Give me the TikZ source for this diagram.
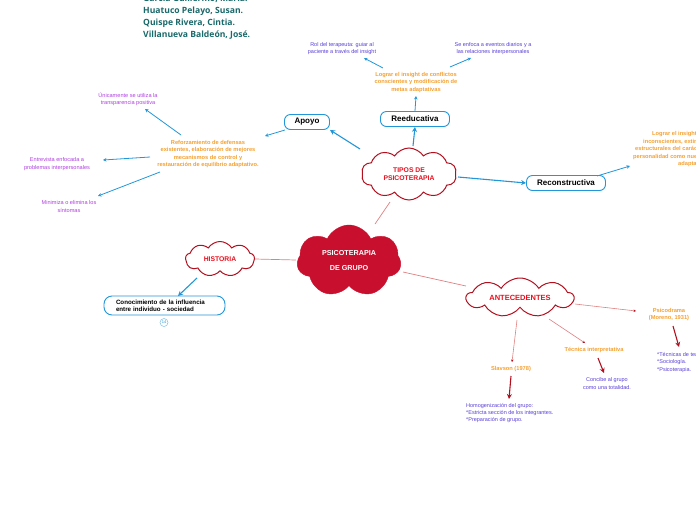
\documentclass[tikz,border=0pt]{standalone}
\usepackage{fontspec}
\setmainfont{Liberation Sans}
\newfontfamily\authfont{Open Sans}
\usetikzlibrary{shapes.symbols,arrows.meta}
\definecolor{blueline}{HTML}{2196D9}
\definecolor{cloudred}{HTML}{B3101F}
\definecolor{redtxt}{HTML}{E8101E}
\definecolor{mainred}{HTML}{C8102E}
\definecolor{orangetxt}{HTML}{F5A030}
\definecolor{purpletxt}{HTML}{B040E0}
\definecolor{violettxt}{HTML}{5A3FD6}
\definecolor{teal}{HTML}{19696B}
\definecolor{thinred}{HTML}{E08080}
\tikzset{
  cloudnode/.style={cloud, cloud ignores aspect, cloud puffs=10, cloud puff arc=115, draw=cloudred, line width=1pt, fill=white, text=redtxt, font=\bfseries\fontsize{6.8}{8.5}\selectfont, align=center, inner sep=0pt},
  boxnode/.style={draw=blueline, line width=0.9pt, rounded corners=6pt, fill=white, font=\bfseries\fontsize{8}{9}\selectfont, minimum height=15pt, inner sep=2pt},
  orange/.style={text=orangetxt, font=\bfseries\fontsize{5.7}{7.5}\selectfont, align=center, inner sep=0pt},
  purple/.style={text=purpletxt, font=\fontsize{5.6}{7.5}\selectfont, align=center, inner sep=0pt},
  violet/.style={text=violettxt, font=\fontsize{5.5}{7.2}\selectfont, align=center, inner sep=0pt},
  barrow/.style={draw=blueline, line width=1.1pt, -{Stealth[length=5pt,width=5pt]}},
  sarrow/.style={draw=blueline, line width=0.8pt, -{Stealth[length=3.5pt,width=3.5pt]}},
  rline/.style={draw=thinred, line width=0.7pt},
  rarrow/.style={draw=thinred, line width=0.6pt, -{Stealth[length=2.5pt,width=2.5pt,color=cloudred]}},
  darrow/.style={draw=cloudred, line width=1.1pt, -{Stealth[length=5pt,width=5pt]}},
}
\begin{document}
\begin{tikzpicture}[x=1pt,y=-1pt]
\useasboundingbox (0,0) rectangle (696,520);
\clip (0,0) rectangle (696,520);
% authors
\node[anchor=north west, text=teal, font=\authfont\bfseries\fontsize{8.6}{12}\selectfont, align=left, inner sep=0pt] (auth) at (143,-5)
 {García Guillermo, María.\\Huatuco Pelayo, Susan.\\Quispe Rivera, Cintia.\\Villanueva Baldeón, José.};

% main cloud
\node[cloud, cloud ignores aspect, cloud puffs=7, cloud puff arc=130, draw=mainred, fill=mainred, minimum width=104pt, minimum height=72pt, text=white, font=\bfseries\fontsize{7.2}{15}\selectfont, align=center, inner sep=0pt] (main) at (349,261) {PSICOTERAPIA\\DE GRUPO};

\node[cloudnode, minimum width=95pt, minimum height=52pt] (tipos) at (409,174) {TIPOS DE\\PSICOTERAPIA};
\node[cloudnode, cloud puffs=9, minimum width=69pt, minimum height=35pt] (hist) at (220,259) {HISTORIA};
\node[cloudnode, cloud puffs=9, minimum width=107pt, minimum height=39pt, font=\bfseries\fontsize{7.5}{9}\selectfont] (ante) at (520,297.5) {ANTECEDENTES};

\coordinate (m1) at (375,224); \coordinate (t1) at (390,202);
\draw[rline] (m1) -- (t1);
\coordinate (m2) at (296,260); \coordinate (h1) at (255,259);
\draw[rline] (m2) -- (h1);
\coordinate (m3) at (403,272); \coordinate (a1) at (466,286);
\draw[rline] (m3) -- (a1);

% boxes
\node[boxnode, minimum width=45pt] (apoyo) at (307,122) {Apoyo};
\node[boxnode, minimum width=69pt] (reedu) at (415,119) {Reeducativa};
\node[boxnode, minimum width=79pt] (recon) at (566,183) {Reconstructiva};

\coordinate (t2) at (360,149);
\draw[barrow] (t2) -- (apoyo.south east);
\coordinate (t3) at (413,146);
\draw[barrow] (t3) -- (reedu.south);
\coordinate (t4) at (458,177);
\draw[barrow] (t4) -- (recon.west);

% Apoyo branch
\node[orange] (refo) at (208,154) {Reforzamiento de defensas\\existentes, elaboración de mejores\\mecanismos de control y\\restauración de equilibrio adaptativo.};
\coordinate (ap1) at (285,130); \coordinate (rf0) at (265,136);
\draw[sarrow] (ap1) -- (rf0);
\node[purple] (unic) at (128,99) {Únicamente se utiliza la\\transparencia positiva};
\node[purple] (entr) at (57,164) {Entrevista enfocada a\\problemas interpersonales};
\node[purple] (mini) at (69,206.5) {Minimiza o elimina los\\síntomas};
\coordinate (rf1) at (181,135); \coordinate (u1) at (145,109);
\draw[sarrow] (rf1) -- (u1);
\coordinate (rf2) at (150,157); \coordinate (e1) at (103,160);
\draw[sarrow] (rf2) -- (e1);
\coordinate (rf3) at (160,172); \coordinate (mi1) at (98,196);
\draw[sarrow] (rf3) -- (mi1);

% Reeducativa branch
\node[orange] (logr) at (416,82.5) {Lograr el insight de conflictos\\conscientes y modificación de\\metas adaptativas};
\coordinate (re1) at (416,96);
\draw[sarrow] (reedu.north) -- (re1);
\node[violet] (rol) at (342,48.5) {Rol del terapeuta: guiar al\\paciente a través del insight};
\node[violet] (enf) at (493,48.5) {Se enfoca a eventos diarios y a\\las relaciones interpersonales};
\coordinate (l1) at (383,68); \coordinate (r1) at (364,58);
\draw[sarrow] (l1) -- (r1);
\coordinate (l2) at (450,67); \coordinate (r2) at (471,58);
\draw[sarrow] (l2) -- (r2);

% Reconstructiva branch
\node[orange, anchor=north west, align=left] (lins) at (633,131.5) {\hspace{19pt}Lograr el insight de conflictos\\\hspace{10pt}inconscientes, extinción de defensas\\\hspace{2pt}estructurales del carácter y de la\\personalidad como nuevas metas\\\hspace{45pt}adaptativas.};
\coordinate (rc1) at (597,176); \coordinate (rc2) at (630,166);
\draw[sarrow] (rc1) -- (rc2);

% Historia branch
\node[boxnode, minimum width=121pt, minimum height=19pt, rounded corners=8pt, inner xsep=12pt, inner ysep=2pt, text width=97pt, align=left, font=\bfseries\fontsize{6.2}{7}\selectfont] (cono) at (164.5,305.5) {Conocimiento de la influencia\\entre individuo - sociedad};
\coordinate (h2) at (197,278);
\draw[barrow] (h2) -- (178,296);
\node[circle, draw=blueline!60, line width=0.5pt, inner sep=0.6pt, minimum size=8pt, text=blueline, font=\fontsize{4}{4}\selectfont] (n14) at (164,322.5) {14};

% Antecedentes branch
\node[orange] (psico) at (669,314.5) {Psicodrama\\(Moreno, 1931)};
\coordinate (an1) at (575,304); \coordinate (ps1) at (636,311);
\draw[rarrow] (an1) -- (ps1);
\coordinate (ps2) at (673,326); \coordinate (ps3) at (679,347);
\draw[darrow] (ps2) -- (ps3);
\node[violet, anchor=west, align=left] (tec) at (657,362.5) {*Técnicas de teatro.\\*Sociología.\\*Psicoterapia.};

\node[orange] (slav) at (511,369) {Slavson (1978)};
\coordinate (an2) at (517,320); \coordinate (sl1) at (512,362);
\draw[rarrow] (an2) -- (sl1);
\coordinate (sl2) at (511,376); \coordinate (sl3) at (509,399);
\draw[darrow] (sl2) -- (sl3);
\node[violet, anchor=west, align=left] (homo) at (466,413) {Homogenización del grupo:\\*Estricta sección de los integrantes.\\*Preparación de grupo.};

\node[orange] (tint) at (594,350) {Técnica interpretativa};
\coordinate (an3) at (549,319); \coordinate (ti1) at (585,343);
\draw[rarrow] (an3) -- (ti1);
\coordinate (ti2) at (598,358); \coordinate (ti3) at (604,373);
\draw[darrow] (ti2) -- (ti3);
\node[violet] (conc) at (607,383.5) {Concibe al grupo\\como una totalidad.};
\end{tikzpicture}
\end{document}
